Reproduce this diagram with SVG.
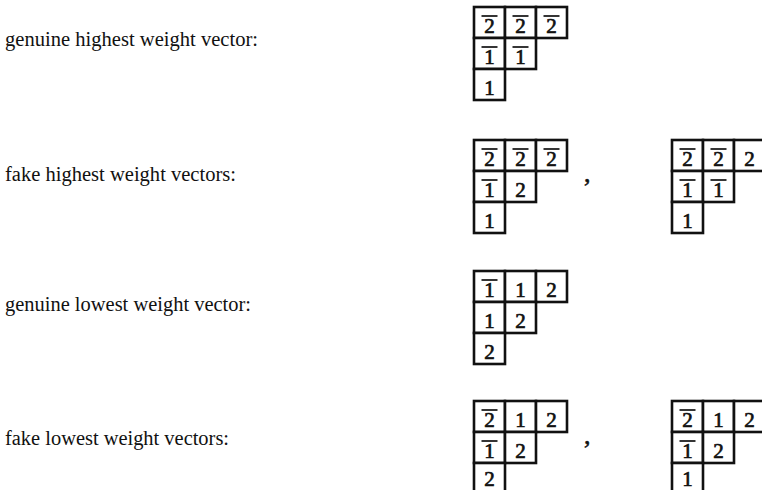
<svg xmlns="http://www.w3.org/2000/svg" width="762" height="490" viewBox="0 0 762 490">
<style>
.lbl{font-family:"Liberation Serif","Times New Roman",serif;font-size:20px;fill:#111}
.cm{font-family:"Liberation Serif","Times New Roman",serif;font-size:26px;fill:#111;stroke:#111;stroke-width:0.6}
.d{font-family:"Liberation Serif","Times New Roman",serif;font-size:21px;fill:#111;text-anchor:middle;stroke:#111;stroke-width:0.7}
.c{fill:#fff;stroke:#111;stroke-width:2.6}
.ob{stroke:#111;stroke-width:1.7}
</style>
<defs>
<g id="shape">
<rect class="c" x="0" y="0" width="31" height="31"/>
<rect class="c" x="31" y="0" width="31" height="31"/>
<rect class="c" x="62" y="0" width="31" height="31"/>
<rect class="c" x="0" y="31" width="31" height="31"/>
<rect class="c" x="31" y="31" width="31" height="31"/>
<rect class="c" x="0" y="62" width="31" height="31"/>
</g>
<line id="bar" class="ob" x1="-8" y1="0" x2="8" y2="0"/>
</defs>
<rect width="762" height="490" fill="#fff"/>
<g id="labels">
<text class="lbl" x="5" y="46" textLength="253" lengthAdjust="spacingAndGlyphs">genuine highest weight vector:</text>
<text class="lbl" x="5" y="181" textLength="231" lengthAdjust="spacingAndGlyphs">fake highest weight vectors:</text>
<text class="lbl" x="5" y="311" textLength="246" lengthAdjust="spacingAndGlyphs">genuine lowest weight vector:</text>
<text class="lbl" x="5" y="445" textLength="224" lengthAdjust="spacingAndGlyphs">fake lowest weight vectors:</text>
</g>
<g id="tableau-genuine-highest" transform="translate(474,7)">
<use href="#shape"/>
<text class="d" x="15.5" y="26">2</text><use href="#bar" x="15.5" y="9"/>
<text class="d" x="46.5" y="26">2</text><use href="#bar" x="46.5" y="9"/>
<text class="d" x="77.5" y="26">2</text><use href="#bar" x="77.5" y="9"/>
<text class="d" x="15.5" y="57">1</text><use href="#bar" x="15.5" y="40"/>
<text class="d" x="46.5" y="57">1</text><use href="#bar" x="46.5" y="40"/>
<text class="d" x="15.5" y="88">1</text>
</g>
<g id="tableau-fake-highest-1" transform="translate(474,140)">
<use href="#shape"/>
<text class="d" x="15.5" y="26">2</text><use href="#bar" x="15.5" y="9"/>
<text class="d" x="46.5" y="26">2</text><use href="#bar" x="46.5" y="9"/>
<text class="d" x="77.5" y="26">2</text><use href="#bar" x="77.5" y="9"/>
<text class="d" x="15.5" y="57">1</text><use href="#bar" x="15.5" y="40"/>
<text class="d" x="46.5" y="57">2</text>
<text class="d" x="15.5" y="88">1</text>
</g>
<text class="cm" x="584" y="182">,</text>
<g id="tableau-fake-highest-2" transform="translate(672,140)">
<use href="#shape"/>
<text class="d" x="15.5" y="26">2</text><use href="#bar" x="15.5" y="9"/>
<text class="d" x="46.5" y="26">2</text><use href="#bar" x="46.5" y="9"/>
<text class="d" x="77.5" y="26">2</text>
<text class="d" x="15.5" y="57">1</text><use href="#bar" x="15.5" y="40"/>
<text class="d" x="46.5" y="57">1</text><use href="#bar" x="46.5" y="40"/>
<text class="d" x="15.5" y="88">1</text>
</g>
<g id="tableau-genuine-lowest" transform="translate(474,271)">
<use href="#shape"/>
<text class="d" x="15.5" y="26">1</text><use href="#bar" x="15.5" y="9"/>
<text class="d" x="46.5" y="26">1</text>
<text class="d" x="77.5" y="26">2</text>
<text class="d" x="15.5" y="57">1</text>
<text class="d" x="46.5" y="57">2</text>
<text class="d" x="15.5" y="88">2</text>
</g>
<g id="tableau-fake-lowest-1" transform="translate(474,401)">
<use href="#shape"/>
<text class="d" x="15.5" y="26">2</text><use href="#bar" x="15.5" y="9"/>
<text class="d" x="46.5" y="26">1</text>
<text class="d" x="77.5" y="26">2</text>
<text class="d" x="15.5" y="57">1</text><use href="#bar" x="15.5" y="40"/>
<text class="d" x="46.5" y="57">2</text>
<text class="d" x="15.5" y="85">2</text>
</g>
<text class="cm" x="584" y="444">,</text>
<g id="tableau-fake-lowest-2" transform="translate(672,401)">
<use href="#shape"/>
<text class="d" x="15.5" y="26">2</text><use href="#bar" x="15.5" y="9"/>
<text class="d" x="46.5" y="26">1</text>
<text class="d" x="77.5" y="26">2</text>
<text class="d" x="15.5" y="57">1</text><use href="#bar" x="15.5" y="40"/>
<text class="d" x="46.5" y="57">2</text>
<text class="d" x="15.5" y="85">1</text>
</g>
<g id="connectors"/>
</svg>
